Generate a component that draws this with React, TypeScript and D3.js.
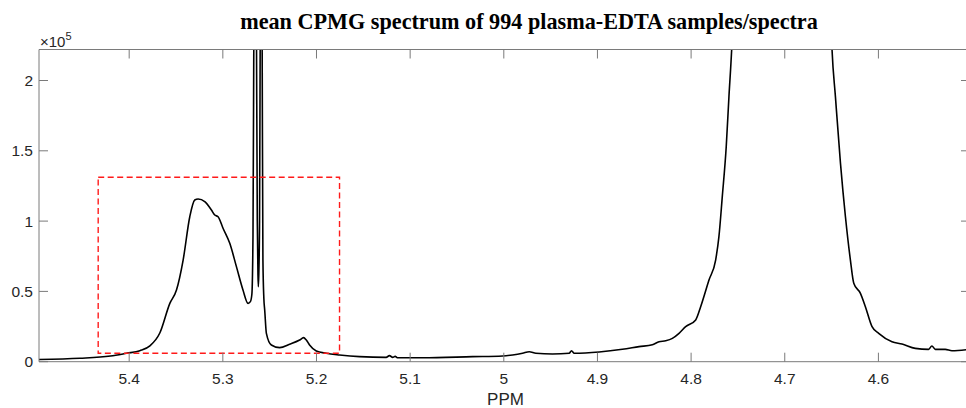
import React from "react";
import * as d3 from "d3";

// spectrum: chemical shift (ppm) and intensity (x1e5)
const ppm: number[] = [
  5.4963, 5.4526, 5.4200, 5.4028, 5.3886, 5.3779, 5.3673, 5.3566, 5.3495, 5.3424,
  5.3353, 5.3300, 5.3264, 5.3193, 5.3122, 5.3086, 5.3051, 5.2998, 5.2926, 5.2855,
  5.2785, 5.2731, 5.2706, 5.2690, 5.2678, 5.2668, 5.2655, 5.2642, 5.2632, 5.2625,
  5.2621, 5.2616, 5.2608, 5.2600, 5.2590, 5.2580, 5.2572, 5.2562, 5.2553, 5.2535,
  5.2482, 5.2393, 5.2287, 5.2180, 5.2138, 5.2109, 5.2074, 5.2002, 5.1896, 5.1754,
  5.1540, 5.1256, 5.1221, 5.1186, 5.1160, 5.1132, 5.0866, 5.0333, 5.0013, 4.9906,
  4.9800, 4.9728, 4.9657, 4.9480, 4.9302, 4.9277, 4.9248, 4.8982, 4.8734, 4.8556,
  4.8414, 4.8342, 4.8271, 4.8200, 4.8129, 4.8058, 4.7951, 4.7898, 4.7809, 4.7738,
  4.7703, 4.7667, 4.7625, 4.7596, 4.7567, 4.7500, 4.7400, 4.7000, 4.6600, 4.6550,
  4.6495, 4.6459, 4.6405, 4.6352, 4.6299, 4.6263, 4.6192, 4.6139, 4.6068, 4.5997,
  4.5855, 4.5748, 4.5606, 4.5464, 4.5429, 4.5392, 4.5286, 4.5215, 4.5022,
];
const intensity: number[] = [
  0.016, 0.024, 0.040, 0.060, 0.078, 0.112, 0.204, 0.415, 0.510, 0.723,
  1.031, 1.150, 1.157, 1.138, 1.079, 1.043, 1.031, 0.949, 0.842, 0.676,
  0.510, 0.415, 0.427, 0.480, 0.900, 2.500, 4.000, 2.500, 1.000, 0.620,
  0.533, 0.620, 1.000, 2.500, 4.000, 2.200, 0.723, 0.450, 0.368, 0.202,
  0.119, 0.100, 0.124, 0.154, 0.171, 0.154, 0.119, 0.076, 0.060, 0.048,
  0.036, 0.031, 0.043, 0.031, 0.038, 0.028, 0.028, 0.036, 0.041, 0.048,
  0.060, 0.071, 0.060, 0.055, 0.060, 0.078, 0.060, 0.069, 0.088, 0.107,
  0.121, 0.142, 0.149, 0.166, 0.202, 0.249, 0.297, 0.391, 0.581, 0.723,
  0.889, 1.174, 1.529, 1.885, 2.217, 3.500, 5.500, 9.000, 5.500, 3.500,
  2.217, 1.885, 1.411, 1.031, 0.723, 0.558, 0.486, 0.391, 0.249, 0.202,
  0.142, 0.126, 0.095, 0.088, 0.112, 0.088, 0.088, 0.078, 0.088,
];

const xTicks: number[] = [5.4, 5.3, 5.2, 5.1, 5, 4.9, 4.8, 4.7, 4.6];
const xTickLabels: string[] = ["5.4", "5.3", "5.2", "5.1", "5", "4.9", "4.8", "4.7", "4.6"];
const yTicks: number[] = [0, 0.5, 1, 1.5, 2];
const yTickLabels: string[] = ["0", "0.5", "1", "1.5", "2"];

// highlighted region: [ppm start, ppm end], [intensity low, high]
const boxPpm: number[] = [5.4331, 5.1754];
const boxInt: number[] = [0.06, 1.3115];

const titleText = "mean CPMG spectrum of 994 plasma-EDTA samples/spectra";
const xLabel = "PPM";

export default function App() {
  const W = 966, H = 408;
  const left = 39, right = 970, top = 49.5, bottom = 361.7;
  const x = d3.scaleLinear().domain([5.4963, 4.5022]).range([left, right]);
  const y = d3.scaleLinear().domain([0, 2.2205]).range([bottom, top]);
  const pts = ppm.map((p, i) => [p, intensity[i]] as [number, number]);
  const line = d3
    .line<[number, number]>()
    .x((d) => x(d[0]))
    .y((d) => y(d[1]))
    .curve(d3.curveMonotoneX);
  const axisColor = "#7a7a7a";
  const textColor = "#262626";
  const font = "'Liberation Sans', Arial, Helvetica, sans-serif";
  const tl = 9;
  return (
    <svg
      width={W}
      height={H}
      style={{ position: "absolute", left: 0, top: 0, background: "#fff" }}
    >
      <defs>
        <clipPath id="plotclip">
          <rect x={left} y={top} width={right - left} height={bottom - top} />
        </clipPath>
      </defs>
      <text
        x={529}
        y={29}
        textAnchor="middle"
        fontFamily="'Liberation Serif', 'Times New Roman', serif"
        fontWeight="bold"
        fontSize={22.2}
        fill="#000"
      >
        {titleText}
      </text>
      <rect x={left} y={top} width={right - left} height={bottom - top} fill="#fff" />
      <g clipPath="url(#plotclip)">
        <path d={line(pts) || ""} fill="none" stroke="#000" strokeWidth={1.6} strokeLinejoin="round" />
        <rect
          x={x(boxPpm[0])}
          y={y(boxInt[1])}
          width={x(boxPpm[1]) - x(boxPpm[0])}
          height={y(boxInt[0]) - y(boxInt[1])}
          fill="none"
          stroke="#ff1a1a"
          strokeWidth={1.4}
          strokeDasharray="6,3.5"
        />
      </g>
      {/* axes frame */}
      <line x1={left} x2={right} y1={bottom} y2={bottom} stroke={axisColor} strokeWidth={1} />
      <line x1={left} x2={right} y1={top} y2={top} stroke={axisColor} strokeWidth={1} />
      <line x1={left} x2={left} y1={top} y2={bottom} stroke={axisColor} strokeWidth={1} />
      <line x1={right} x2={right} y1={top} y2={bottom} stroke={axisColor} strokeWidth={1} />
      {xTicks.map((t, i) => (
        <g key={"xt" + i}>
          <line x1={x(t)} x2={x(t)} y1={bottom} y2={bottom - tl} stroke={axisColor} />
          <line x1={x(t)} x2={x(t)} y1={top} y2={top + tl} stroke={axisColor} />
          <text
            x={x(t)}
            y={384}
            textAnchor="middle"
            fontFamily={font}
            fontSize={15.5}
            fill={textColor}
          >
            {xTickLabels[i]}
          </text>
        </g>
      ))}
      {yTicks.map((t, i) => (
        <g key={"yt" + i}>
          <line x1={left} x2={left + tl} y1={y(t)} y2={y(t)} stroke={axisColor} />
          <line x1={right} x2={right - tl} y1={y(t)} y2={y(t)} stroke={axisColor} />
          <text
            x={33}
            y={y(t) + 5.5}
            textAnchor="end"
            fontFamily={font}
            fontSize={15.5}
            fill={textColor}
          >
            {yTickLabels[i]}
          </text>
        </g>
      ))}
      <text x={40} y={46.5} fontFamily={font} fontSize={15} fill={textColor}>
        ×10
        <tspan dy={-7} fontSize={11}>5</tspan>
      </text>
      <text
        x={(left + 966) / 2 + 3}
        y={405}
        textAnchor="middle"
        fontFamily={font}
        fontSize={17}
        fill={textColor}
      >
        {xLabel}
      </text>
    </svg>
  );
}
